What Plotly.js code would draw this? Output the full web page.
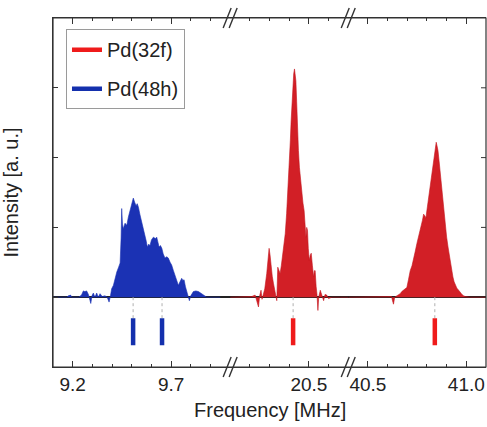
<!DOCTYPE html>
<html>
<head>
<meta charset="utf-8">
<script src="https://cdn.plot.ly/plotly-3.0.1.min.js"></script>
<style>html,body{margin:0;padding:0;background:#fff;}#chart{width:487px;height:427px;}</style>
</head>
<body>
<div id="chart"></div>
<script>
// ---- data ----
const freq48h = [9.10,9.136,9.170,9.178,9.19,9.195,9.23,9.245,9.254,9.262,9.271,9.280,9.292,9.298,9.305,9.313,9.322,9.330,9.339,9.350,9.364,9.375,9.385,9.392,9.398,9.407,9.415,9.424,9.432,9.441,9.446,9.449,9.453,9.457,9.466,9.475,9.483,9.491,9.500,9.508,9.515,9.522,9.528,9.534,9.542,9.551,9.560,9.568,9.574,9.579,9.586,9.593,9.600,9.610,9.620,9.627,9.633,9.639,9.646,9.653,9.660,9.669,9.678,9.686,9.695,9.703,9.712,9.720,9.728,9.737,9.745,9.754,9.760,9.766,9.773,9.780,9.787,9.793,9.800,9.813,9.826,9.839,9.850,9.864,9.881,9.95];
const int48h  = [0,0,0,0.02,0.03,0,0,0.03,0.09,0.08,0.09,0.04,-0.09,0.02,0.06,0,0.06,0,0.05,0.01,0.02,0,-0.07,0.02,0.12,0.17,0.28,0.36,0.42,0.49,0.85,1.27,1.05,0.98,1.06,1.03,1.15,1.24,1.33,1.42,1.36,1.31,1.34,1.29,1.18,1.08,0.98,0.89,0.80,0.72,0.76,0.74,0.82,0.86,0.84,0.86,0.78,0.72,0.74,0.70,0.62,0.56,0.58,0.56,0.50,0.46,0.38,0.31,0.22,0.17,0.22,0.27,0.24,0.25,0.15,0.08,0,-0.05,0.02,0.08,0.09,0.08,0.06,0.03,0,0];

const freq32fA = [20.10,20.176,20.21,20.227,20.235,20.244,20.250,20.257,20.262,20.269,20.276,20.286,20.292,20.298,20.303,20.308,20.314,20.320,20.326,20.332,20.337,20.342,20.348,20.354,20.360,20.366,20.373,20.380,20.387,20.393,20.398,20.402,20.406,20.410,20.414,20.418,20.423,20.427,20.431,20.434,20.438,20.442,20.447,20.452,20.458,20.464,20.470,20.476,20.480,20.485,20.489,20.493,20.497,20.502,20.507,20.512,20.518,20.524,20.528,20.532,20.537,20.541,20.546,20.550,20.558,20.565,20.575,20.582,20.591,20.600,20.617,20.66,20.70];
const int32fA  = [0,0,0.01,0.03,-0.04,-0.14,0.02,0.10,-0.03,0.04,0.12,0.34,0.50,0.70,0.60,0.43,0.30,0.20,0.10,0.05,-0.05,0.43,0.38,0.34,0.45,0.58,0.72,0.91,1.20,1.48,1.72,1.96,2.25,2.53,2.80,3.10,3.20,3.27,3.20,3.10,2.80,2.43,2.10,1.86,1.65,1.48,1.35,1.24,1.00,0.86,1.00,0.96,0.70,0.53,0.60,0.63,0.45,0.29,0.38,0.38,0.15,0.05,-0.19,0,0.10,0.02,-0.05,0.04,0.03,-0.02,0,0,0];

const freq32fB = [40.40,40.60,40.62,40.625,40.630,40.636,40.647,40.655,40.664,40.672,40.681,40.690,40.698,40.706,40.715,40.724,40.732,40.740,40.749,40.758,40.764,40.771,40.777,40.783,40.789,40.795,40.800,40.805,40.811,40.817,40.823,40.829,40.834,40.839,40.843,40.847,40.851,40.856,40.862,40.868,40.874,40.880,40.886,40.893,40.900,40.907,40.913,40.919,40.925,40.932,40.938,40.944,40.952,40.961,40.968,40.975,40.985,40.995,41.02,41.10];
const int32fB  = [0,0,0.01,-0.05,-0.10,0,0.02,0.03,0.05,0.08,0.10,0.12,0.14,0.25,0.38,0.45,0.53,0.65,0.77,0.87,0.92,1.00,1.10,1.19,1.16,1.14,1.25,1.36,1.47,1.58,1.70,1.81,1.93,2.05,2.15,2.22,2.17,2.10,1.94,1.77,1.58,1.39,1.20,1.00,0.86,0.72,0.60,0.48,0.38,0.29,0.22,0.17,0.13,0.10,0.07,0.05,0.02,0.01,0,0];

// calculated site frequencies (stick markers)
const sites48h = [9.507, 9.654];
const sites32f = [20.42, 40.84];
const stickTop = -0.30, stickBottom = -0.69;

// axis segments of the broken frequency axis
const segRanges = [[9.1, 10.0], [20.1, 20.7], [40.4, 41.1]];
const segTick0 = [9.2, 20.0, 40.5];
const majorStep = 0.5, minorStep = 0.1;
const yRange = [-1, 4];
const yTicks = [1, 2, 3];

// ---- build ----
const axisIds = ['x','x2','x3'];
function segOf(f){ for (let i=0;i<segRanges.length;i++){ if (f>=segRanges[i][0] && f<=segRanges[i][1]) return i; } return 0; }

const W = 487, H = 427;
const plotW = W - 53 - 1, plotH = H - 18 - 60;
const total = segRanges.reduce((a,r)=>a+(r[1]-r[0]),0);
const bounds = [0]; let acc = 0;
segRanges.forEach(r => { acc += r[1]-r[0]; bounds.push(acc/total); });
const px = p => p / plotW, py = p => p / plotH;

const blue = '#1b32b4', red = '#d21f26';
const blueStick = '#1430ad', redStick = '#ef1b1b';
const lineCol = '#333333';

const traces = [];
traces.push({x:freq48h, y:int48h, xaxis:'x', yaxis:'y', type:'scatter', mode:'lines', fill:'tozeroy',
  fillcolor:blue, line:{color:blue, width:0.6}, showlegend:false});
traces.push({x:freq32fA, y:int32fA, xaxis:'x2', yaxis:'y', type:'scatter', mode:'lines', fill:'tozeroy',
  fillcolor:red, line:{color:'#c4161e', width:0.6}, showlegend:false});
traces.push({x:freq32fB, y:int32fB, xaxis:'x3', yaxis:'y', type:'scatter', mode:'lines', fill:'tozeroy',
  fillcolor:red, line:{color:'#c4161e', width:0.6}, showlegend:false});

function stickTraces(sites, name, color){
  const out = [];
  const bySeg = {};
  sites.forEach(f => { const s = segOf(f); (bySeg[s] = bySeg[s] || []).push(f); });
  let first = true;
  Object.keys(bySeg).forEach(s => {
    const xs = [], ys = [], dx = [], dy = [];
    bySeg[s].forEach(f => { xs.push(f, f, null); ys.push(stickTop, stickBottom, null); dx.push(f, f, null); dy.push(0, stickTop, null); });
    out.push({x:dx, y:dy, xaxis:axisIds[s], yaxis:'y', type:'scatter', mode:'lines',
      line:{color:'#b0b0b0', width:1, dash:'dot'}, showlegend:false});
    out.push({x:xs, y:ys, xaxis:axisIds[s], yaxis:'y', type:'scatter', mode:'lines', name:name,
      legendgroup:name, showlegend:first, line:{color:color, width:4.5}});
    first = false;
  });
  return out;
}
traces.push(...stickTraces(sites32f, 'Pd(32f)', redStick));
traces.push(...stickTraces(sites48h, 'Pd(48h)', blueStick));

const fontFam = 'Liberation Sans';
const layout = {
  width:W, height:H, margin:{l:53, r:1, t:18, b:60},
  paper_bgcolor:'#fff', plot_bgcolor:'#fff',
  font:{family:fontFam, color:'#222', size:19},
  showlegend:true,
  legend:{x:0.03, y:0.968, xanchor:'left', yanchor:'top', bgcolor:'#fff', bordercolor:'#9a9a9a', borderwidth:1,
    font:{family:fontFam, size:20}},
  yaxis:{range:yRange, dtick:1, tick0:0, ticks:'inside', ticklen:5, tickcolor:lineCol, showticklabels:false,
    showline:true, linecolor:lineCol, linewidth:1, showgrid:false,
    zeroline:true, zerolinecolor:'#222', zerolinewidth:1.5, anchor:'x',
    title:{text:'Intensity [a. u.]', font:{family:fontFam, size:20}}},
  annotations:[{text:'Frequency [MHz]', xref:'paper', yref:'paper', x:0.5, y:-0.123, xanchor:'center', yanchor:'middle',
    showarrow:false, font:{family:fontFam, size:20}}],
  shapes:[{type:'rect', xref:'paper', yref:'paper', x0:0, x1:1, y0:0, y1:1, line:{color:lineCol, width:1.2}}]
};
segRanges.forEach((r,i) => {
  const key = i===0 ? 'xaxis' : 'xaxis'+(i+1);
  layout[key] = {range:r, domain:[bounds[i], bounds[i+1]], anchor:'y', tick0:segTick0[i], dtick:majorStep, tickformat:'.1f',
    ticks:'inside', ticklen:6, tickcolor:lineCol, showline:true, mirror:'ticks', linecolor:lineCol, linewidth:1,
    showgrid:false, zeroline:false,
    minor:{tick0:segTick0[i], dtick:minorStep, ticks:'inside', ticklen:3, tickcolor:lineCol},
    tickfont:{family:fontFam, size:19}};
});
// right-hand frame ticks
yTicks.forEach(v => {
  const yf = (v - yRange[0]) / (yRange[1] - yRange[0]);
  layout.shapes.push({type:'line', xref:'paper', yref:'paper', x0:1 - px(5), x1:1, y0:yf, y1:yf, line:{color:lineCol, width:1}});
});
// break marks "//"
[bounds[1], bounds[2]].forEach(xb => {
  [0,1].forEach(yb => {
    [-3, 3].forEach(c => layout.shapes.push({type:'line', xref:'paper', yref:'paper',
      x0:xb + px(c-4), x1:xb + px(c+4), y0:yb - py(10), y1:yb + py(10), line:{color:lineCol, width:1.4}}));
  });
});

Plotly.newPlot('chart', traces, layout, {staticPlot:true});
</script>
</body>
</html>
